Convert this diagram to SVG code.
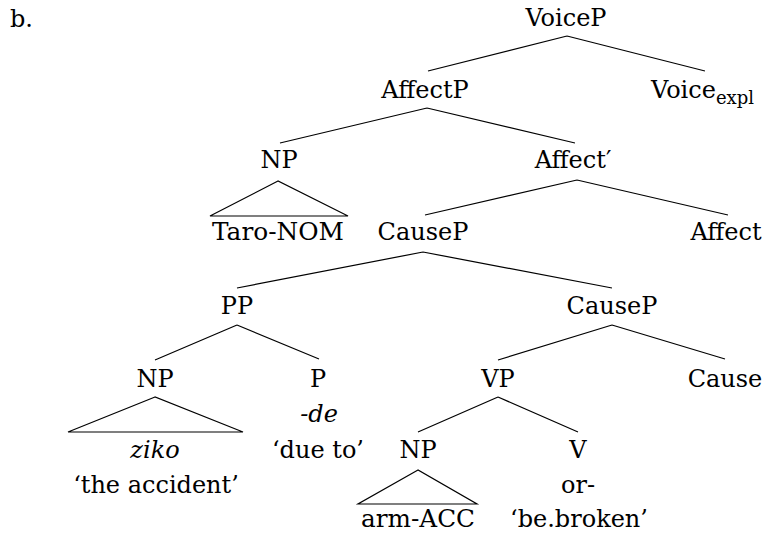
<svg xmlns="http://www.w3.org/2000/svg" width="768" height="535" viewBox="0 0 768 535">
  <style>
    text { font-family: "DejaVu Serif", "Liberation Serif", serif; font-size: 24px; fill: #000; text-anchor: middle; }
    .it { font-style: italic; }
    .sub { font-size: 18px; }
    .edge { stroke: #000; stroke-width: 1.2; fill: none; }
  </style>
  <rect width="768" height="535" fill="#fff"/>

  <text x="10" y="27" style="text-anchor:start">b.</text>

  <!-- branches -->
  <g id="connectors" class="edge">
    <path d="M567 36 L428 71 M567 36 L705 71"/>
    <path d="M427 108 L280 143 M427 108 L575 143"/>
    <path d="M577 180 L425 215 M577 180 L728 215"/>
    <path d="M423 252 L237 288 M423 252 L612 288"/>
    <path d="M237 325 L155 360 M237 325 L319 359"/>
    <path d="M612 325 L498 360 M612 325 L725 359"/>
    <path d="M498 397 L418 432 M498 397 L578 432"/>
    <!-- roof triangles -->
    <path d="M278 181 L210 216 L348 216 Z"/>
    <path d="M155 397 L68 432 L243 432 Z"/>
    <path d="M418 470 L358 504 L477 504 Z"/>
  </g>

  <g id="voiceP"><text x="566" y="26">VoiceP</text></g>
  <g id="affectP"><text x="425" y="98">AffectP</text></g>
  <g id="voiceExpl"><text x="651" y="98" style="text-anchor:start">Voice<tspan class="sub" dy="6">expl</tspan></text></g>
  <g id="np-subject"><text x="279" y="168">NP</text></g>
  <g id="affectBar"><text x="573" y="168">Affect′</text></g>
  <g id="taro"><text x="278" y="240" textLength="132" lengthAdjust="spacingAndGlyphs">Taro-NOM</text></g>
  <g id="causeP-upper"><text x="423" y="240">CauseP</text></g>
  <g id="affect"><text x="726" y="240">Affect</text></g>
  <g id="pp"><text x="237" y="314">PP</text></g>
  <g id="causeP-lower"><text x="612" y="314">CauseP</text></g>
  <g id="np-ziko"><text x="155" y="387">NP</text></g>
  <g id="p"><text x="318" y="387">P</text></g>
  <g id="vp"><text x="498" y="387">VP</text></g>
  <g id="cause"><text x="725" y="387">Cause</text></g>
  <g id="ziko">
    <text x="155" y="458" class="it">ziko</text>
    <text x="156" y="493">‘the accident’</text>
  </g>
  <g id="de">
    <text x="319" y="422" class="it">-de</text>
    <text x="318" y="458">‘due to’</text>
  </g>
  <g id="np-arm"><text x="418" y="458">NP</text></g>
  <g id="v"><text x="578" y="458">V</text></g>
  <g id="arm"><text x="418" y="527" textLength="114" lengthAdjust="spacingAndGlyphs">arm-ACC</text></g>
  <g id="or">
    <text x="578" y="493">or-</text>
    <text x="579" y="527">‘be.broken’</text>
  </g>
</svg>
